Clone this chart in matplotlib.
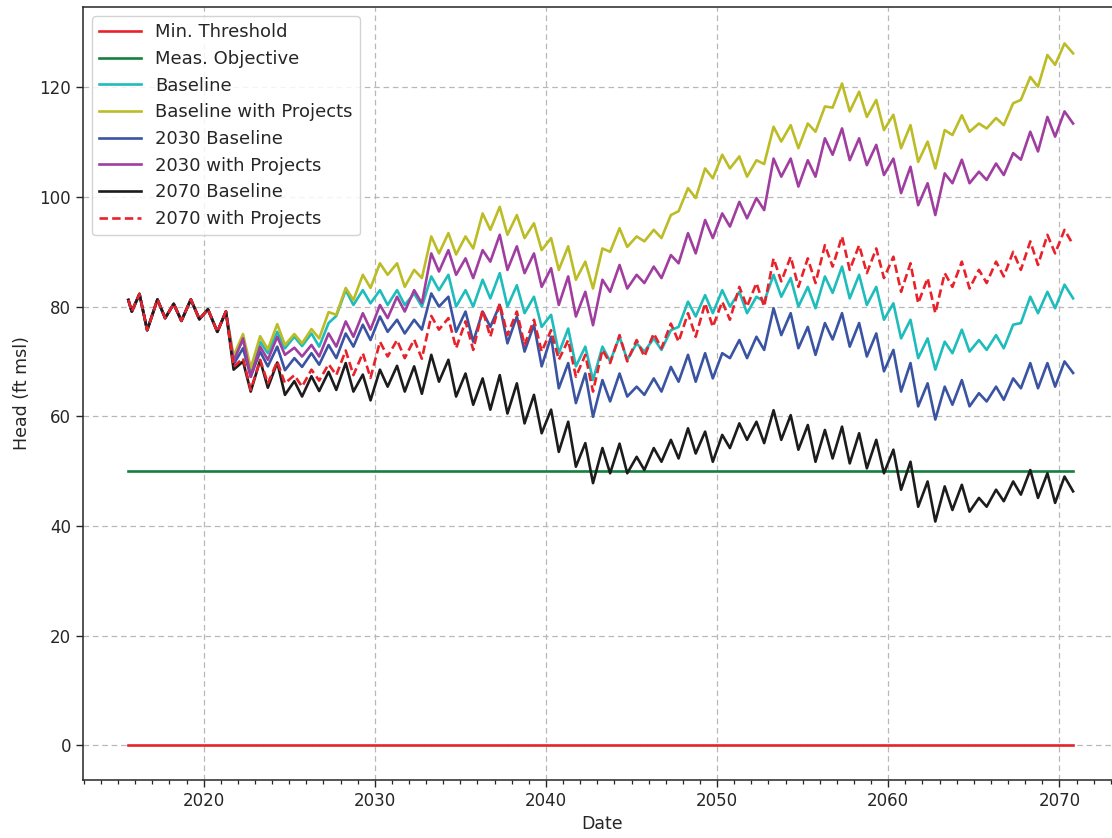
import numpy as np
import matplotlib
matplotlib.use("Agg")
import matplotlib.pyplot as plt
from matplotlib.ticker import MultipleLocator

plt.rcParams['font.family'] = ['DejaVu Sans']

# ---------------- data ----------------
# common history (all scenarios identical)
t_common = [2015.6, 2015.8, 2016.25, 2016.7, 2017.3, 2017.75, 2018.25, 2018.7,
            2019.25, 2019.75, 2020.25, 2020.8, 2021.3]
v_common = [81.2, 79.1, 82.3, 75.7, 81.3, 77.9, 80.5, 77.4,
            81.3, 77.7, 79.5, 75.4, 79.1]

# projection years: seasonal high (early year) and low (late year) per year
proj_years = list(range(2022, 2071))
t_split = 2021.75
t_end = 2070.8

baseline_start = 70.5
baseline_peaks = [73.9, 73.6, 75.4, 74.5, 75.1, 77.0, 83.0, 83.0, 83.0, 83.0, 82.4, 85.5, 85.8, 83.0, 84.9,
                  86.1, 83.9, 81.8, 78.5, 76.0, 72.7, 72.7, 74.5, 73.3, 74.2, 75.7, 80.9, 82.1, 83.0, 82.7,
                  81.8, 85.8, 85.2, 83.6, 85.5, 87.3, 85.8, 83.6, 80.6, 77.6, 74.2, 73.6, 75.8, 73.9, 74.8,
                  76.7, 81.8, 82.7, 84.0]
baseline_lows = [68.4, 71.5, 72.4, 72.8, 72.7, 78.3, 80.3, 80.6, 80.3, 80.3, 80.0, 83.0, 80.0, 80.0, 81.5,
                 80.0, 78.8, 76.3, 71.5, 69.1, 66.6, 70.0, 70.3, 71.8, 72.1, 76.3, 78.2, 78.8, 80.0, 78.8,
                 80.9, 81.8, 80.0, 79.7, 82.5, 81.5, 80.3, 77.6, 74.2, 70.6, 68.5, 71.5, 71.8, 72.1, 72.4,
                 77.0, 78.8, 79.7, 81.5]

bproj_start = 71.0
bproj_peaks = [75.0, 74.6, 76.8, 75.0, 75.9, 79.0, 83.4, 85.8, 87.9, 87.9, 86.7, 92.8, 93.4, 92.8, 97.0,
               98.2, 96.7, 95.2, 92.5, 91.0, 88.2, 90.6, 94.3, 92.8, 94.0, 96.7, 101.6, 105.2, 107.7, 107.4,
               106.7, 112.8, 113.1, 113.4, 116.5, 120.7, 119.2, 117.7, 115.0, 113.1, 110.1, 112.2, 114.9,
               113.4, 114.4, 117.1, 121.9, 125.9, 128.0]
bproj_lows = [68.8, 72.2, 73.0, 73.3, 74.2, 78.5, 81.2, 83.4, 85.8, 83.6, 85.2, 89.7, 89.5, 90.6, 94.0,
              93.1, 92.5, 90.3, 86.7, 84.9, 83.3, 90.0, 90.9, 91.9, 92.5, 97.4, 99.8, 103.4, 105.2, 103.7,
              106.0, 110.1, 108.9, 111.9, 116.3, 115.6, 114.6, 112.2, 108.9, 106.4, 105.2, 111.3, 111.9,
              112.5, 113.1, 117.7, 120.1, 124.1, 126.2]

b2030_start = 69.5
b2030_peaks = [72.4, 71.8, 72.7, 70.6, 71.5, 73.0, 75.1, 76.7, 78.2, 77.6, 77.6, 82.4, 81.8, 79.1, 79.1,
               80.3, 78.2, 76.7, 74.5, 69.7, 67.8, 66.6, 67.8, 65.4, 66.9, 69.0, 71.2, 71.5, 71.5, 73.9,
               74.5, 79.7, 78.8, 76.3, 77.0, 78.8, 77.0, 75.1, 72.1, 69.7, 66.0, 65.4, 66.6, 64.2, 65.4,
               66.9, 69.7, 69.7, 70.0]
b2030_lows = [67.2, 69.1, 68.4, 69.0, 69.4, 70.6, 72.7, 73.9, 75.4, 75.1, 75.8, 80.0, 75.4, 73.6, 76.3,
              73.3, 71.8, 69.1, 65.1, 62.4, 59.9, 62.7, 63.6, 63.9, 64.5, 66.3, 66.3, 66.9, 70.6, 70.6,
              72.1, 74.8, 72.4, 71.2, 74.0, 72.7, 70.9, 68.2, 64.5, 61.8, 59.4, 62.1, 61.8, 62.7, 63.0,
              65.1, 65.1, 65.4, 67.9]

p2030_start = 70.0
p2030_peaks = [74.2, 72.7, 74.5, 72.5, 73.0, 75.1, 77.3, 78.8, 80.3, 81.8, 83.0, 89.7, 90.3, 88.8, 90.3,
               93.1, 91.0, 89.7, 87.0, 85.5, 82.7, 84.9, 87.6, 85.8, 87.3, 89.4, 93.4, 95.8, 97.0, 99.1,
               99.8, 107.0, 107.0, 106.7, 110.7, 112.5, 110.7, 109.5, 107.0, 105.5, 102.5, 104.3, 106.8,
               104.6, 106.1, 108.0, 111.9, 114.6, 115.6]
p2030_lows = [67.2, 70.3, 71.2, 70.9, 70.9, 72.7, 74.5, 75.8, 77.9, 79.1, 80.6, 86.4, 85.8, 85.2, 88.2,
              86.7, 86.1, 83.6, 80.3, 78.2, 76.6, 82.7, 83.3, 84.3, 85.2, 87.9, 89.7, 92.5, 94.6, 96.1,
              97.6, 103.7, 101.9, 103.7, 107.7, 106.7, 105.8, 104.0, 100.7, 98.5, 96.7, 102.5, 102.5,
              103.1, 104.0, 106.8, 108.3, 111.0, 113.4]

b2070_start = 68.5
b2070_peaks = [70.0, 70.2, 69.8, 66.4, 67.3, 68.1, 69.7, 67.6, 68.5, 69.2, 69.1, 71.2, 70.3, 67.8, 66.9,
               67.5, 66.0, 63.9, 61.2, 59.0, 55.1, 54.2, 55.0, 52.6, 54.2, 55.7, 57.8, 57.2, 56.6, 58.7,
               59.0, 61.1, 60.2, 58.4, 57.5, 58.1, 56.9, 55.7, 53.9, 51.7, 48.1, 47.2, 47.5, 45.1, 46.6,
               48.1, 50.2, 49.6, 49.0]
b2070_lows = [64.5, 65.2, 63.9, 63.6, 64.6, 64.8, 64.5, 62.9, 65.4, 64.5, 64.1, 66.3, 63.6, 62.1, 61.2,
              60.5, 58.7, 56.9, 53.5, 50.8, 47.8, 49.6, 49.6, 50.2, 51.7, 52.3, 53.2, 51.7, 54.2, 55.7,
              55.1, 55.7, 53.9, 51.7, 52.3, 51.4, 50.5, 49.6, 46.6, 43.5, 40.8, 42.9, 42.6, 43.5, 44.5,
              45.7, 45.1, 44.2, 46.3]

p2070_start = 69.0
p2070_peaks = [70.6, 70.3, 70.0, 67.5, 68.5, 69.5, 72.0, 71.5, 73.6, 73.9, 74.0, 78.3, 77.9, 77.3, 79.4,
               80.6, 79.1, 77.6, 75.7, 73.9, 71.2, 72.1, 74.8, 73.9, 75.1, 76.9, 78.8, 80.6, 80.9, 83.6,
               84.3, 88.8, 89.1, 88.8, 91.2, 92.8, 91.2, 90.6, 89.1, 87.9, 85.2, 86.1, 88.2, 86.7, 88.2,
               90.0, 91.9, 93.1, 94.0]
p2070_lows = [64.8, 66.0, 66.0, 65.4, 66.5, 67.5, 67.5, 67.0, 70.9, 70.6, 70.5, 75.8, 72.4, 72.1, 74.5,
              74.8, 73.0, 71.8, 70.3, 67.2, 64.5, 69.7, 70.0, 70.9, 72.4, 73.6, 74.5, 76.3, 77.6, 80.0,
              80.0, 84.6, 83.6, 84.3, 87.3, 86.7, 86.1, 85.2, 82.7, 80.6, 78.8, 83.6, 83.3, 84.3, 85.5,
              86.7, 87.6, 89.7, 91.3]

min_threshold = 0.0
meas_objective = 50.0

labels = ["Min. Threshold", "Meas. Objective", "Baseline", "Baseline with Projects",
          "2030 Baseline", "2030 with Projects", "2070 Baseline", "2070 with Projects"]
colors = ["#e8222a", "#15803e", "#1fbcbc", "#bcbc26", "#3a54a2", "#a03ea0", "#1c1c1c", "#e8222a"]


def build(start, peaks, lows):
    t = list(t_common) + [t_split]
    v = list(v_common) + [start]
    for i, y in enumerate(proj_years):
        t += [y + 0.3, y + 0.75]
        v += [peaks[i], lows[i]]
    t[-1] = t_end
    return np.array(t), np.array(v)


series = [
    build(baseline_start, baseline_peaks, baseline_lows),
    build(bproj_start, bproj_peaks, bproj_lows),
    build(b2030_start, b2030_peaks, b2030_lows),
    build(p2030_start, p2030_peaks, p2030_lows),
    build(b2070_start, b2070_peaks, b2070_lows),
    build(p2070_start, p2070_peaks, p2070_lows),
]

# ---------------- plot ----------------
W, H = 1112, 838
fig = plt.figure(figsize=(W / 100, H / 100), dpi=100)
ax = fig.add_axes([83 / W, 58 / H, (1121 - 83) / W, (780 - 7) / H])

txt = "#262626"
lw = 1.9
ax.plot([t_common[0], t_end], [min_threshold] * 2, color=colors[0], lw=lw, label=labels[0])
ax.plot([t_common[0], t_end], [meas_objective] * 2, color=colors[1], lw=lw, label=labels[1])
for k, (t, v) in enumerate(series):
    ls = (0, (3.2, 1.6)) if k == 5 else "-"
    ax.plot(t, v, color=colors[k + 2], lw=lw, ls=ls, label=labels[k + 2],
            solid_joinstyle="round", dash_joinstyle="round")

ax.set_xlim(2012.95, 2073.6)
ax.set_ylim(-6.35, 134.65)
ax.xaxis.set_major_locator(MultipleLocator(10))
ax.xaxis.set_minor_locator(MultipleLocator(1))
ax.yaxis.set_major_locator(MultipleLocator(20))
ax.set_xticks([2020, 2030, 2040, 2050, 2060, 2070])

ax.grid(True, which="major", color="#b8b8b8", lw=0.9, ls=(0, (4.5, 3)))
ax.set_axisbelow(True)
ax.tick_params(which="major", direction="out", length=5, width=1, colors=txt, labelsize=12)
ax.tick_params(which="minor", direction="out", length=3, width=0.9, colors=txt)
for s in ax.spines.values():
    s.set_color(txt)
    s.set_linewidth(1.1)

ax.set_xlabel("Date", fontsize=12.5, color=txt, labelpad=4)
ax.set_ylabel("Head (ft msl)", fontsize=12.5, color=txt, labelpad=6)

leg = ax.legend(loc="upper left", fontsize=13, handlelength=2.3, frameon=True,
                fancybox=True, framealpha=0.85, edgecolor="#cccccc",
                borderaxespad=0.5, labelspacing=0.48)
for t in leg.get_texts():
    t.set_color(txt)

fig.savefig("out.png", dpi=100)
